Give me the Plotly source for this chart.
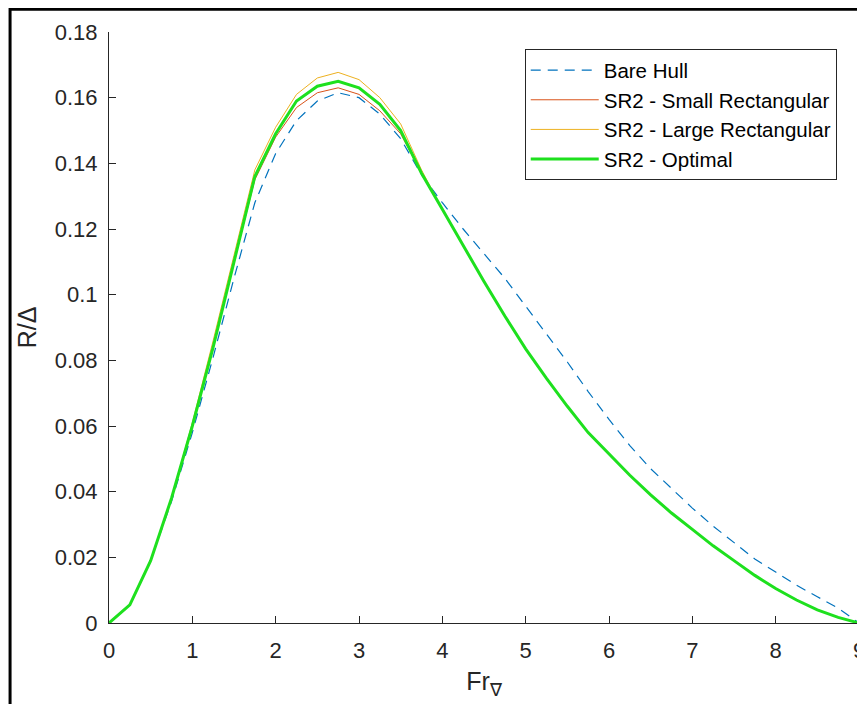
import plotly.graph_objects as go

fr = [0, 0.25, 0.5, 0.75, 1.0, 1.25, 1.5, 1.75, 2.0, 2.25, 2.5, 2.75, 3.0, 3.25, 3.5, 3.75,
      4.0, 4.25, 4.5, 4.75, 5.0, 5.25, 5.5, 5.75, 6.0, 6.25, 6.5, 6.75, 7.0, 7.25, 7.5, 7.75,
      8.0, 8.25, 8.5, 8.75, 9.0]

bare_hull = [0, 0.0055, 0.019, 0.037, 0.058, 0.081, 0.105, 0.128, 0.143, 0.153, 0.159, 0.1615,
             0.160, 0.155, 0.1475, 0.1365, 0.128, 0.120, 0.1125, 0.105, 0.0965, 0.088, 0.0795,
             0.0705, 0.062, 0.054, 0.047, 0.041, 0.035, 0.0295, 0.0245, 0.0195, 0.0155, 0.0115,
             0.008, 0.0045, 0]

optimal = [0, 0.0055, 0.019, 0.038, 0.060, 0.084, 0.110, 0.136, 0.149, 0.159, 0.1635, 0.165,
           0.163, 0.158, 0.150, 0.137, 0.126, 0.115, 0.104, 0.0935, 0.0835, 0.0745, 0.066,
           0.058, 0.0515, 0.045, 0.039, 0.0335, 0.0285, 0.0235, 0.019, 0.0145, 0.0105, 0.007,
           0.004, 0.0017, 0]

small_rect = [0, 0.0055, 0.019, 0.038, 0.060, 0.084, 0.110, 0.135, 0.148, 0.157, 0.1615, 0.163,
              0.161, 0.156, 0.149, 0.137, 0.126, 0.115, 0.104, 0.0935, 0.0835, 0.0745, 0.066,
              0.058, 0.0515, 0.045, 0.039, 0.0335, 0.0285, 0.0235, 0.019, 0.0145, 0.0105, 0.007,
              0.004, 0.0017, 0]

large_rect = [0, 0.0055, 0.019, 0.038, 0.061, 0.086, 0.112, 0.138, 0.151, 0.161, 0.166, 0.1677,
              0.1655, 0.160, 0.152, 0.138, 0.126, 0.115, 0.104, 0.0935, 0.0835, 0.0745, 0.066,
              0.058, 0.0515, 0.045, 0.039, 0.0335, 0.0285, 0.0235, 0.019, 0.0145, 0.0105, 0.007,
              0.004, 0.0017, 0]

names = ["Bare Hull", "SR2 - Small Rectangular", "SR2 - Large Rectangular", "SR2 - Optimal"]
x_ticks = [0, 1, 2, 3, 4, 5, 6, 7, 8, 9]
y_ticks = [0, 0.02, 0.04, 0.06, 0.08, 0.1, 0.12, 0.14, 0.16, 0.18]
y_tick_text = ["0", "0.02", "0.04", "0.06", "0.08", "0.1", "0.12", "0.14", "0.16", "0.18"]

FONT = "Liberation Sans, Arial, sans-serif"
TXT = "#262626"

# page body has an 8px margin: the figure is sized to fill the rest of the 865x704 window
W, H = 857, 696
L, R, T, B = 101, 5.5, 23.7, 81
PW, PH = W - L - R, H - T - B

fig = go.Figure()
fig.add_trace(go.Scatter(x=fr, y=bare_hull, name=names[0], mode="lines",
                         line=dict(color="#0072BD", width=1.2, dash="10px,7px")))
fig.add_trace(go.Scatter(x=fr, y=small_rect, name=names[1], mode="lines",
                         line=dict(color="#D95319", width=1)))
fig.add_trace(go.Scatter(x=fr, y=large_rect, name=names[2], mode="lines",
                         line=dict(color="#EDB120", width=1)))
fig.add_trace(go.Scatter(x=fr, y=optimal, name=names[3], mode="lines",
                         line=dict(color="#1EE01E", width=3)))

fig.update_layout(
    width=W, height=H,
    margin=dict(l=L, r=R, t=T, b=B, autoexpand=False),
    paper_bgcolor="white", plot_bgcolor="white",
    font=dict(family=FONT, size=22, color=TXT),
    showlegend=True,
    legend=dict(x=(517 - L) / PW, y=(H - B - 41) / PH, xanchor="left", yanchor="top",
                bordercolor="#262626", borderwidth=1, bgcolor="white",
                font=dict(size=20.5, family=FONT, color="#000000"),
                itemwidth=68),
    xaxis=dict(range=[0, 9], tickmode="array", tickvals=x_ticks,
               ticks="inside", ticklen=7, tickcolor=TXT, showline=True, linecolor=TXT,
               linewidth=1, showgrid=False, zeroline=False, mirror=False,
               tickfont=dict(size=22, color=TXT), ticklabelstandoff=8,
               ticklabeloverflow="allow",
               title=dict(text="Fr<sub>∇</sub>", font=dict(size=25, color=TXT), standoff=10)),
    yaxis=dict(range=[0, 0.18], tickmode="array", tickvals=y_ticks, ticktext=y_tick_text,
               ticks="inside", ticklen=7, tickcolor=TXT, showline=True, linecolor=TXT,
               linewidth=1, showgrid=False, zeroline=False, mirror=False,
               tickfont=dict(size=22, color=TXT), ticklabelstandoff=6,
               title=dict(text="R/Δ", font=dict(size=25, color=TXT), standoff=11)),
)

# outer figure frame (black border of the image)
fig.add_shape(type="rect", xref="paper", yref="paper",
              x0=(2 - L) / PW, x1=(880 - L) / PW,
              y0=(H - B - 720) / PH, y1=(H - B - 1) / PH,
              line=dict(color="black", width=3), fillcolor="rgba(0,0,0,0)", layer="above")

fig.write_html("out.html")
